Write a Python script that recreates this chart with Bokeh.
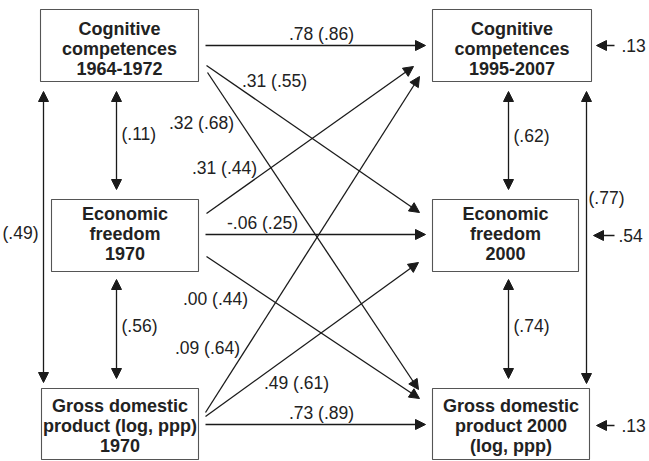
from bokeh.plotting import figure
from bokeh.models import Range1d, Arrow, NormalHead
from bokeh.core.properties import value
from bokeh.embed import file_html
from bokeh.resources import INLINE

# ---------------- data ----------------
node_ids = ["cog64", "ef70", "gdp70", "cog07", "ef00", "gdp00"]
node_lines = [
    ["Cognitive", "competences", "1964-1972"],
    ["Economic", "freedom", "1970"],
    ["Gross domestic", "product (log, ppp)", "1970"],
    ["Cognitive", "competences", "1995-2007"],
    ["Economic", "freedom", "2000"],
    ["Gross domestic", "product 2000", "(log, ppp)"],
]

# directed paths: standardized coefficient (zero-order correlation)
path_from = ["cog64", "cog64", "cog64", "ef70", "ef70", "ef70", "gdp70", "gdp70", "gdp70"]
path_to = ["cog07", "ef00", "gdp00", "cog07", "ef00", "gdp00", "cog07", "ef00", "gdp00"]
path_coef = [".78", ".31", ".32", ".31", "-.06", ".00", ".09", ".49", ".73"]
path_corr = ["(.86)", "(.55)", "(.68)", "(.44)", "(.25)", "(.44)", "(.64)", "(.61)", "(.89)"]

# correlations (double-headed arrows)
corr_a = ["cog64", "ef70", "cog64", "cog07", "ef00", "cog07"]
corr_b = ["ef70", "gdp70", "gdp70", "ef00", "gdp00", "gdp00"]
corr_val = ["(.11)", "(.56)", "(.49)", "(.62)", "(.74)", "(.77)"]

# residuals
resid_node = ["cog07", "ef00", "gdp00"]
resid_val = [".13", ".54", ".13"]

# ---------------- layout (pixel positions of the diagram) ----------------
box = {  # left, right, top, bottom
    "cog64": (40, 198, 9, 81),
    "ef70": (51, 198, 199, 271),
    "gdp70": (41, 198, 388, 459),
    "cog07": (432, 591, 9, 81),
    "ef00": (432, 578, 199, 271),
    "gdp00": (432, 589, 388, 459),
}
line_y = {
    "cog64": (28, 48, 68), "cog07": (28, 48, 68),
    "ef70": (213, 233, 253), "ef00": (213, 233, 253),
    "gdp70": (405, 425, 445), "gdp00": (405, 425, 445),
}
path_geom = [  # x0, y0, x1, y1, label x, label y
    (205, 45, 425, 45, 321, 33),
    (206, 65, 419, 212, 274, 80),
    (207, 72, 418, 389, 201, 122),
    (206, 213, 413, 66, 224, 167),
    (205, 234, 425, 234, 262, 222),
    (206, 256, 419, 398, 215, 298),
    (205, 412, 419, 76, 207, 347),
    (205, 416, 418, 262, 296, 382),
    (205, 424, 425, 424, 321, 412),
]
corr_geom = [  # x, y0, y1, label x (left), label y
    (116, 91, 189, 121, 133),
    (116, 279, 378, 121, 325),
    (43, 91, 382, 2, 232),
    (508, 91, 189, 513, 135),
    (508, 279, 378, 513, 325),
    (586, 91, 383, 588, 197),
]
resid_geom = [  # x0, x1, y, label x
    (614, 596, 45, 621),
    (614, 593, 235, 618),
    (614, 596, 425, 621),
]

INK = "#1a1a1a"
FONT = "Liberation Sans"

p = figure(width=649, height=461, output_backend="svg", toolbar_location=None,
           x_range=Range1d(0, 649), y_range=Range1d(461, 0), min_border=0,
           tools="")
p.axis.visible = False
p.grid.visible = False
p.outline_line_color = None
p.background_fill_color = "white"

# boxes
p.quad(left=[box[n][0] for n in node_ids], right=[box[n][1] for n in node_ids],
       top=[box[n][2] for n in node_ids], bottom=[box[n][3] for n in node_ids],
       fill_color="white", line_color="#555555", line_width=1.1)

# box texts
tx, ty, tt = [], [], []
for n, lines in zip(node_ids, node_lines):
    cx = (box[n][0] + box[n][1]) / 2
    for yy, s in zip(line_y[n], lines):
        tx.append(cx); ty.append(yy); tt.append(s)
p.text(x=tx, y=ty, text=tt, text_font=value(FONT), text_font_style="bold",
       text_font_size="18px", text_align="center", text_baseline="middle",
       text_color="#222222")

def head():
    return NormalHead(size=10, fill_color=INK, line_color=INK, line_width=1)

# directed paths
lx, ly, lt = [], [], []
for g, c, r in zip(path_geom, path_coef, path_corr):
    x0, y0, x1, y1, tx_, ty_ = g
    p.add_layout(Arrow(end=head(), x_start=x0, y_start=y0, x_end=x1, y_end=y1,
                       line_color=INK, line_width=1.3))
    lx.append(tx_); ly.append(ty_); lt.append(f"{c} {r}")
p.text(x=lx, y=ly, text=lt, text_font=value(FONT), text_font_size="17.5px",
       text_align="center", text_baseline="middle", text_color="#222222")

# correlations
cx_, cy_, ct_ = [], [], []
for g, v in zip(corr_geom, corr_val):
    x, y0, y1, tx_, ty_ = g
    p.add_layout(Arrow(start=head(), end=head(), x_start=x, y_start=y0, x_end=x, y_end=y1,
                       line_color=INK, line_width=1.3))
    cx_.append(tx_); cy_.append(ty_); ct_.append(v)
p.text(x=cx_, y=cy_, text=ct_, text_font=value(FONT), text_font_size="17.5px",
       text_align="left", text_baseline="middle", text_color="#222222")

# residuals
rx, ry, rt = [], [], []
for g, v in zip(resid_geom, resid_val):
    x0, x1, y, tx_ = g
    p.add_layout(Arrow(end=head(), x_start=x0, y_start=y, x_end=x1, y_end=y,
                       line_color=INK, line_width=1.3))
    rx.append(tx_); ry.append(y); rt.append(v)
p.text(x=rx, y=ry, text=rt, text_font=value(FONT), text_font_size="17.5px",
       text_align="left", text_baseline="middle", text_color="#222222")

open("out.html", "w").write(file_html(p, INLINE))
